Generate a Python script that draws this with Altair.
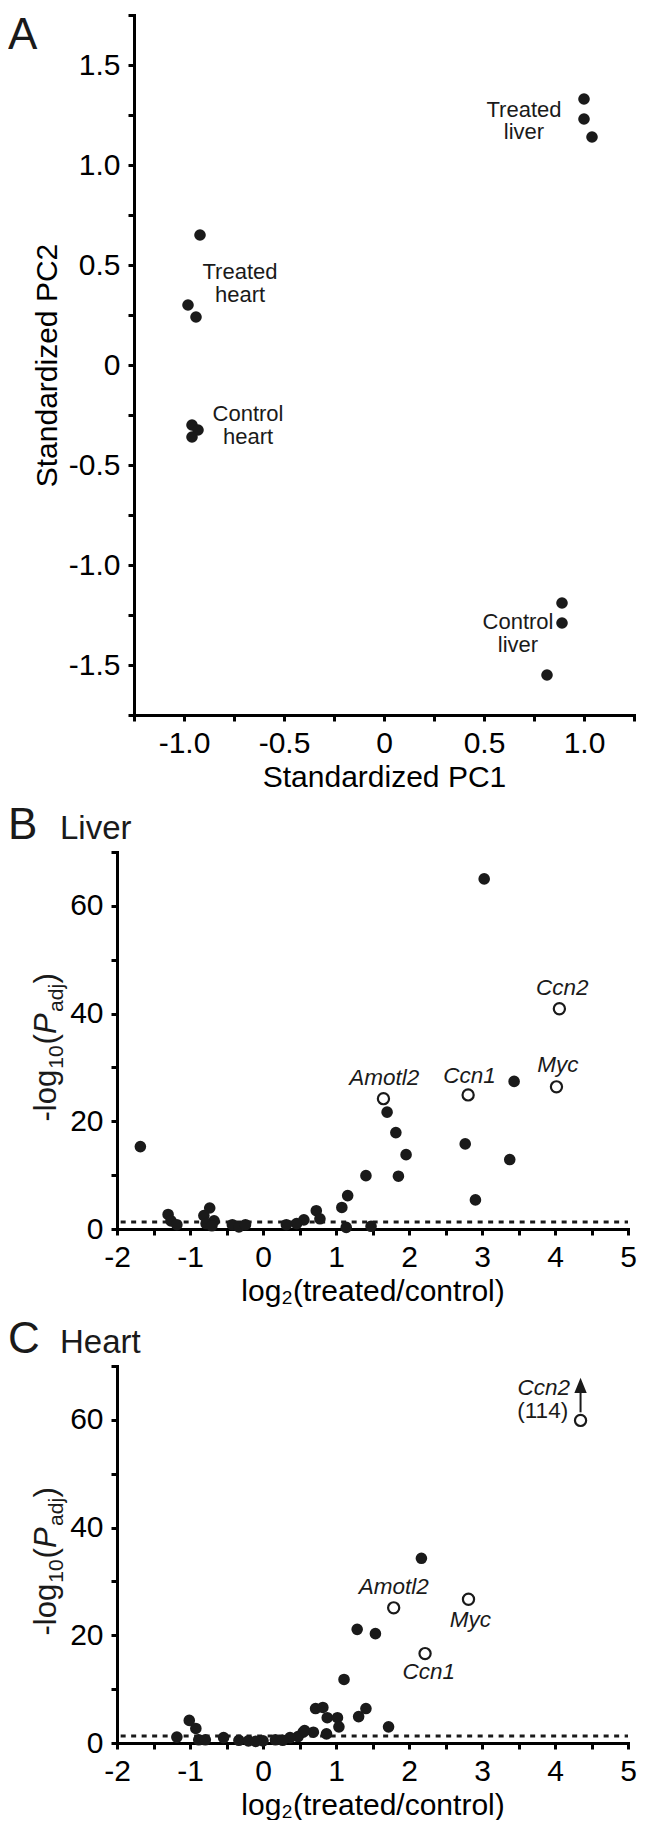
import altair as alt
import pandas as pd

FONT = "Liberation Sans"
INK = "#1a1a1a"

# ---------------- Panel A : PCA ----------------
pca_pc1 = [1.00, 1.00, 1.04, -0.92, -0.98, -0.94, -0.96, -0.93, -0.96, 0.89, 0.89, 0.815]
pca_pc2 = [1.33, 1.23, 1.14, 0.65, 0.30, 0.24, -0.30, -0.325, -0.36, -1.19, -1.29, -1.55]

pca_lbl_text = ["Treated", "liver", "Treated", "heart", "Control", "heart", "Control", "liver"]
pca_lbl_x = [0.70, 0.70, -0.72, -0.72, -0.68, -0.68, 0.67, 0.67]
pca_lbl_y = [1.24, 1.128, 0.43, 0.315, -0.28, -0.395, -1.32, -1.435]

pca_x_ticks = [i * 0.25 for i in range(-5, 6)]
pca_y_ticks = [i * 0.25 for i in range(-7, 8)]

# ---------------- Panel B : Liver ----------------
liver_fc = [3.03, 3.44, 1.70, 1.82, 1.96, 1.41, 1.855, 1.16, 1.08, 2.77, 2.91, 3.38,
            1.14, 1.48, 0.73, 0.78, 0.56, 0.46, 0.32, -1.68, -1.30, -1.26, -1.18,
            -0.73, -0.81, -0.67, -0.78, -0.42, -0.33, -0.24, -0.70]
liver_p = [65.0, 27.4, 21.7, 17.9, 13.8, 9.9, 9.8, 6.2, 4.0, 15.8, 5.4, 12.9,
           0.3, 0.5, 3.4, 1.9, 1.7, 1.0, 0.8, 15.3, 2.7, 1.5, 0.8,
           3.9, 2.5, 1.5, 1.0, 0.8, 0.4, 0.8, 0.6]
liver_open_gene = ["Amotl2", "Ccn1", "Myc", "Ccn2"]
liver_open_fc = [1.65, 2.81, 4.02, 4.06]
liver_open_p = [24.2, 24.9, 26.4, 40.9]
liver_lbl_x = [1.66, 2.83, 4.04, 4.10]
liver_lbl_y = [26.8, 27.2, 29.1, 43.4]

# ---------------- Panel C : Heart ----------------
heart_fc = [2.17, 1.29, 1.54, 1.11, 0.72, 0.82, 0.88, 1.02, 1.04, 1.31, 1.41, 1.72,
            0.87, 0.69, 0.55, 0.48, -1.01, -0.92, -1.18, -0.88, -0.79, -0.54, -0.33,
            -0.20, 0.00, 0.17, 0.37, 0.57, -0.10, 0.27]
heart_p = [34.3, 21.1, 20.3, 11.8, 6.4, 6.6, 4.7, 4.7, 3.0, 4.9, 6.4, 3.0,
           1.7, 2.0, 2.0, 1.2, 4.2, 2.7, 1.1, 0.6, 0.6, 1.0, 0.5,
           0.4, 0.4, 0.6, 1.0, 2.3, 0.3, 0.5]
heart_open_gene = ["Amotl2", "Ccn1", "Myc", "Ccn2"]
heart_open_fc = [1.79, 2.22, 2.815, 4.35]
heart_open_p = [25.1, 16.6, 26.7, 59.9]
heart_lbl_text = ["Amotl2", "Ccn1", "Myc"]
heart_lbl_x = [1.79, 2.27, 2.84]
heart_lbl_y = [27.6, 11.8, 21.6]
ccn2_label = "Ccn2"
ccn2_label_x, ccn2_label_y = 4.205, 64.6
ccn2_value = "(114)"
ccn2_value_x, ccn2_value_y = 4.18, 60.3
arrow_x, arrow_y0, arrow_y1, arrow_head_y = 4.35, 61.4, 65.0, 66.4

volcano_x_ticks = [i * 0.5 for i in range(-4, 11)]
volcano_y_ticks = list(range(0, 80, 10))
padj_threshold = 1.3


def axis(values, label_expr, title=None, title_pad=4, label_pad=7, offset=None, label_size=30):
    kw = dict(values=values, labelExpr=label_expr, domainColor="black", domainWidth=3,
              domainCap="square", tickColor="black", tickWidth=3, tickSize=6,
              labelFont=FONT, labelFontSize=label_size, labelColor="black", labelPadding=label_pad,
              labelOverlap=False, labelFlush=False, grid=False)
    if offset is not None:
        kw["offset"] = offset
    if title is not None:
        kw.update(title=title, titleFont=FONT, titleFontSize=30, titleColor="black",
                  titleFontWeight="normal", titlePadding=title_pad)
    else:
        kw.update(title=None)
    return alt.Axis(**kw)


# ----- Panel A chart -----
A_SHIFT = 17  # panel A's axes sit this many px right of the volcano panels' axes
A_W = 500
ax_lbl_A = ("datum.value == 0 ? '0' : (datum.value * 2 == round(datum.value * 2) ? "
            "(datum.value == round(datum.value) ? toString(datum.value) + '.0' : toString(datum.value)) : '')")
xA = alt.X("x:Q", scale=alt.Scale(domain=[-1.25, 1.25], nice=False, zero=False, range=[A_SHIFT, A_SHIFT + A_W]),
           axis=axis(pca_x_ticks, ax_lbl_A, "Standardized PC1"))
yA = alt.Y("y:Q", scale=alt.Scale(domain=[-1.75, 1.75], nice=False, zero=False),
           axis=axis(pca_y_ticks, ax_lbl_A, "Standardized PC2", title_pad=6, label_pad=8, offset=-A_SHIFT,
                     label_size={"condition": {"test": "datum.value > 1.7", "value": 0}, "value": 30}))

dfA = pd.DataFrame({"x": pca_pc1, "y": pca_pc2})
dfA_lbl = pd.DataFrame({"t": pca_lbl_text, "x": pca_lbl_x, "y": pca_lbl_y})
dfA_letter = pd.DataFrame({"t": ["A"], "x": [-1.25], "y": [1.75]})

ptsA = alt.Chart(dfA).mark_circle(size=135, color=INK, opacity=1).encode(x=xA, y=yA)
lblA = alt.Chart(dfA_lbl).mark_text(font=FONT, fontSize=22, align="center", baseline="alphabetic",
                                    color=INK).encode(x=xA, y=yA, text="t:N")
letA = alt.Chart(dfA_letter).mark_text(font=FONT, fontSize=44, align="left", baseline="alphabetic",
                                       dx=-126, dy=33.5, color=INK).encode(x=xA, y=yA, text="t:N")
chartA = alt.layer(ptsA, lblA, letA).properties(width=A_SHIFT + A_W, height=700)


# ----- Volcano panels -----
ax_lbl_x = "datum.value == round(datum.value) ? toString(datum.value) : ''"
ax_lbl_y = "datum.value % 20 == 0 ? toString(datum.value) : ''"


def volcano(letter, name, fc, p, open_gene, open_fc, open_p, lbl_text, lbl_x, lbl_y, extra=None):
    xs = alt.X("x:Q", scale=alt.Scale(domain=[-2, 5], nice=False, zero=False),
               axis=axis(volcano_x_ticks, ax_lbl_x, "log\u2082(treated/control)"))
    ys = alt.Y("y:Q", scale=alt.Scale(domain=[0, 70], nice=False, zero=False),
               axis=axis(volcano_y_ticks, ax_lbl_y, None, label_pad=8))
    layers = []
    thr = pd.DataFrame({"x": [-1.95], "x2": [5.0], "y": [padj_threshold]})
    layers.append(alt.Chart(thr).mark_rule(color=INK, strokeWidth=3, strokeDash=[5, 5.5]).encode(
        x=xs, x2="x2:Q", y=ys))
    layers.append(alt.Chart(pd.DataFrame({"x": fc, "y": p})).mark_circle(
        size=135, color=INK, opacity=1).encode(x=xs, y=ys))
    layers.append(alt.Chart(pd.DataFrame({"g": open_gene, "x": open_fc, "y": open_p})).mark_point(
        shape="circle", filled=True, fill="white", stroke=INK, strokeWidth=2.2, size=125,
        opacity=1).encode(x=xs, y=ys))
    layers.append(alt.Chart(pd.DataFrame({"t": lbl_text, "x": lbl_x, "y": lbl_y})).mark_text(
        font=FONT, fontSize=22.5, fontStyle="italic", align="center", baseline="alphabetic",
        color=INK).encode(x=xs, y=ys, text="t:N"))
    if extra:
        layers.extend(extra(xs, ys))
    corner = pd.DataFrame({"t": [letter], "x": [-2.0], "y": [70.0]})
    layers.append(alt.Chart(corner).mark_text(font=FONT, fontSize=44, align="left", baseline="alphabetic",
                                              dx=-109, dy=-13, color=INK).encode(x=xs, y=ys, text="t:N"))
    sub = pd.DataFrame({"t": [name], "x": [-2.0], "y": [70.0]})
    layers.append(alt.Chart(sub).mark_text(font=FONT, fontSize=33, align="left", baseline="alphabetic",
                                           dx=-57, dy=-13, color=INK).encode(x=xs, y=ys, text="t:N"))
    # y-axis title built from segments: -log10(P_adj)
    segs = [("-log", -81, -61, 31, "normal"), ("10", -28.3, -54, 21, "normal"),
            ("(", -3.9, -61, 31, "normal"), ("P", 6.4, -61, 31, "italic"),
            ("adj", 28.6, -54, 21, "normal"), (")", 57.1, -61, 31, "normal")]
    anchor = pd.DataFrame({"x": [-2.0], "y": [35.0]})
    for txt, dx, dy, fs, st in segs:
        layers.append(alt.Chart(anchor).mark_text(
            text=txt, font=FONT, fontSize=fs, fontStyle=st, angle=270, align="left",
            baseline="alphabetic", dx=dx, dy=dy, color=INK).encode(x=xs, y=ys))
    return alt.layer(*layers).properties(width=511, height=377)


chartB = volcano("B", "Liver", liver_fc, liver_p, liver_open_gene, liver_open_fc, liver_open_p,
                 liver_open_gene, liver_lbl_x, liver_lbl_y)


def heart_extra(xs, ys):
    out = []
    out.append(alt.Chart(pd.DataFrame({"x": [arrow_x], "y": [arrow_y0], "y2": [arrow_y1]})).mark_rule(
        color=INK, strokeWidth=2).encode(x=xs, y=ys, y2="y2:Q"))
    out.append(alt.Chart(pd.DataFrame({"x": [arrow_x], "y": [arrow_head_y]})).mark_point(
        shape="M-0.9,1.1L0.9,1.1L0,-1.1Z", filled=True, color=INK, size=190, opacity=1).encode(x=xs, y=ys))
    out.append(alt.Chart(pd.DataFrame({"t": [ccn2_label], "x": [ccn2_label_x], "y": [ccn2_label_y]})).mark_text(
        font=FONT, fontSize=22.5, fontStyle="italic", align="right", baseline="alphabetic",
        color=INK).encode(x=xs, y=ys, text="t:N"))
    out.append(alt.Chart(pd.DataFrame({"t": [ccn2_value], "x": [ccn2_value_x], "y": [ccn2_value_y]})).mark_text(
        font=FONT, fontSize=22.5, align="right", baseline="alphabetic",
        color=INK).encode(x=xs, y=ys, text="t:N"))
    return out


chartC = volcano("C", "Heart", heart_fc, heart_p, heart_open_gene, heart_open_fc, heart_open_p,
                 heart_lbl_text, heart_lbl_x, heart_lbl_y, extra=heart_extra)

chart = alt.vconcat(chartA, chartB, chartC, spacing=12).properties(
    padding={"left": 0, "top": 5, "right": 0, "bottom": 0}
).configure_view(stroke=None)

chart.save("out.html", embed_options={"renderer": "svg", "actions": False})
